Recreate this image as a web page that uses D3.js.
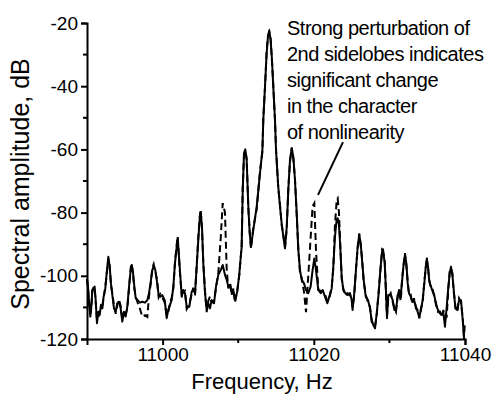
<!DOCTYPE html>
<html>
<head>
<meta charset="utf-8">
<script src="https://cdn.jsdelivr.net/npm/d3@7.8.5/dist/d3.min.js"></script>
<style>
  body { margin: 0; background: #fff; }
  svg { display: block; font-family: "Liberation Sans", Arial, sans-serif; }
</style>
</head>
<body>
<div id="chart"></div>
<script>
// frequency grid (Hz)
const freq = [
  10990.00, 10990.13, 10990.26, 10990.44, 10990.57, 10990.70, 10990.88, 10991.01, 10991.15, 10991.32,
  10991.50, 10991.68, 10991.85, 10992.03, 10992.20, 10992.42, 10992.60, 10992.82, 10993.00, 10993.17,
  10993.35, 10993.57, 10993.80, 10994.00, 10994.23, 10994.45, 10994.67, 10994.89, 10995.11, 10995.33,
  10995.56, 10995.78, 10995.91, 10996.08, 10996.26, 10996.44, 10996.70, 10997.01, 10997.32, 10997.67,
  10997.98, 10998.20, 10998.43, 10998.64, 10998.82, 10999.04, 10999.26, 10999.48, 10999.70, 10999.96,
  11000.28, 11000.54, 11000.75, 11000.98, 11001.20, 11001.42, 11001.64, 11001.87, 11002.00, 11002.17,
  11002.35, 11002.53, 11002.74, 11002.96, 11003.19, 11003.53, 11003.85, 11004.06, 11004.29, 11004.51,
  11004.72, 11004.90, 11005.04, 11005.21, 11005.38, 11005.61, 11005.83, 11006.04, 11006.27, 11006.49,
  11006.80, 11007.06, 11007.37, 11007.69, 11007.95, 11008.25, 11008.48, 11008.69, 11008.92, 11009.14,
  11009.35, 11009.58, 11009.88, 11010.15, 11010.46, 11010.60, 11010.77, 11010.94, 11011.12, 11011.34,
  11011.52, 11011.69, 11012.00, 11012.45, 11012.88, 11013.20, 11013.32, 11013.54, 11013.76, 11013.94,
  11014.11, 11014.29, 11014.47, 11014.64, 11014.87, 11015.00, 11015.30, 11015.53, 11015.75, 11015.97,
  11016.19, 11016.42, 11016.63, 11016.85, 11017.08, 11017.29, 11017.51, 11017.74, 11017.95, 11018.17,
  11018.40, 11018.70, 11018.97, 11019.27, 11019.58, 11019.84, 11020.07, 11020.29, 11020.60, 11020.91,
  11021.18, 11021.48, 11021.79, 11022.05, 11022.37, 11022.58, 11022.80, 11023.03, 11023.16, 11023.33,
  11023.50, 11023.69, 11023.90, 11024.17, 11024.43, 11024.79, 11025.01, 11025.13, 11025.35, 11025.58,
  11025.80, 11026.01, 11026.20, 11026.38, 11026.60, 11026.87, 11027.17, 11027.43, 11027.66, 11027.87,
  11028.10, 11028.32, 11028.58, 11028.80, 11029.03, 11029.15, 11029.38, 11029.55, 11029.68, 11029.86,
  11030.17, 11030.44, 11030.65, 11030.87, 11031.10, 11031.27, 11031.50, 11031.71, 11031.89, 11032.06,
  11032.24, 11032.42, 11032.59, 11032.82, 11033.03, 11033.25, 11033.52, 11033.74, 11033.96, 11034.18,
  11034.40, 11034.62, 11034.81, 11034.94, 11035.11, 11035.28, 11035.50, 11035.73, 11035.94, 11036.16,
  11036.43, 11036.69, 11036.96, 11037.13, 11037.35, 11037.58, 11037.80, 11037.98, 11038.15, 11038.33,
  11038.51, 11038.73, 11038.99, 11039.21, 11039.47, 11039.70, 11039.87, 11040.00
];

// solid trace (dB)
const solidDb = [
  -101.3, -103.4, -107.7, -112.9, -109.8, -104.5, -104.0, -103.4, -107.7, -115.0,
  -111.4, -112.4, -109.2, -110.3, -106.6, -104.0, -99.2, -94.0, -97.1, -102.4,
  -106.1, -110.3, -111.4, -108.7, -108.2, -110.3, -114.5, -111.4, -112.9, -109.8,
  -103.4, -98.2, -96.6, -98.7, -103.4, -107.1, -107.7, -108.5, -108.2, -108.5,
  -107.7, -105.5, -101.9, -98.2, -96.9, -98.2, -101.9, -106.1, -106.6, -106.1,
  -107.7, -113.4, -110.8, -109.2, -107.7, -103.4, -96.0, -90.8, -88.1, -94.0,
  -100.3, -106.6, -104.5, -105.5, -109.8, -109.8, -105.0, -104.5, -105.5, -97.1,
  -88.7, -82.3, -79.8, -84.5, -96.0, -105.5, -110.8, -108.7, -110.3, -107.7,
  -108.7, -103.4, -99.7, -98.2, -96.6, -99.7, -101.3, -103.4, -102.9, -105.5,
  -104.5, -107.7, -105.0, -99.2, -90.8, -72.8, -61.2, -60.0, -63.4, -78.1,
  -86.6, -90.8, -85.5, -78.1, -67.6, -60.2, -50.7, -40.2, -29.6, -24.3,
  -22.4, -25.4, -31.7, -40.2, -50.7, -60.2, -71.8, -78.1, -83.4, -87.6,
  -91.3, -84.5, -72.8, -63.4, -59.7, -62.3, -69.7, -80.2, -91.8, -98.2,
  -101.3, -102.4, -104.5, -105.5, -103.4, -98.2, -94.5, -98.2, -104.5, -105.5,
  -104.5, -106.6, -108.7, -106.6, -104.0, -97.1, -87.6, -82.1, -81.8, -83.9,
  -90.8, -100.3, -104.5, -105.5, -106.1, -105.5, -107.7, -110.8, -105.5, -98.2,
  -90.8, -87.1, -89.7, -95.0, -101.3, -106.6, -107.7, -110.3, -114.0, -115.6,
  -116.6, -111.9, -105.5, -98.2, -92.4, -91.6, -96.0, -105.0, -113.4, -106.1,
  -106.1, -107.7, -110.8, -110.8, -106.6, -104.5, -106.1, -100.8, -96.0, -93.4,
  -96.0, -102.4, -105.5, -106.6, -108.2, -107.7, -109.8, -111.4, -112.9, -110.8,
  -107.7, -102.4, -97.1, -94.8, -97.1, -101.9, -103.4, -105.0, -106.1, -109.2,
  -110.8, -111.9, -112.4, -111.4, -116.1, -109.8, -103.4, -99.2, -97.1, -99.7,
  -104.5, -110.3, -110.8, -107.7, -107.7, -114.0, -119.8, -120.0
];

// dashed trace (dB)
const dashedDb = [
  -101.0, -104.0, -108.5, -112.0, -110.5, -105.0, -103.5, -104.0, -108.5, -114.0,
  -113.0, -111.5, -110.0, -109.5, -107.0, -103.5, -99.8, -94.5, -96.5, -103.0,
  -105.5, -109.5, -112.0, -109.5, -107.5, -109.5, -113.5, -112.0, -112.0, -110.5,
  -104.0, -97.5, -96.0, -99.5, -104.0, -106.5, -108.5, -110.5, -113.0, -112.5,
  -113.0, -106.5, -102.5, -97.5, -96.3, -98.8, -101.2, -106.8, -105.8, -106.8,
  -108.5, -112.5, -111.5, -108.5, -107.0, -104.0, -95.5, -90.0, -87.5, -94.5,
  -101.0, -105.8, -105.2, -104.8, -110.5, -109.0, -105.8, -103.8, -106.2, -96.5,
  -88.0, -81.5, -79.0, -85.0, -95.5, -104.8, -111.5, -108.0, -106.5, -108.5,
  -108.0, -104.0, -99.0, -88.0, -77.0, -80.0, -98.0, -104.0, -102.0, -106.0,
  -104.0, -108.5, -104.5, -99.8, -90.2, -72.2, -61.8, -60.4, -62.8, -78.6,
  -86.0, -91.4, -84.8, -78.8, -67.0, -60.8, -50.2, -40.8, -29.0, -24.0,
  -22.8, -25.0, -32.3, -39.6, -51.3, -59.6, -72.4, -77.5, -84.0, -87.0,
  -91.0, -85.2, -72.2, -64.0, -59.4, -62.9, -69.2, -80.8, -91.2, -98.8,
  -100.7, -105.0, -111.5, -100.0, -88.0, -78.0, -77.0, -92.0, -104.5, -104.8,
  -105.2, -106.0, -108.0, -107.2, -103.5, -97.7, -84.0, -76.0, -75.5, -80.0,
  -90.0, -101.0, -104.0, -106.2, -105.5, -106.2, -107.0, -110.0, -106.2, -97.6,
  -91.4, -86.6, -90.3, -94.4, -101.9, -106.0, -108.3, -109.7, -114.6, -115.0,
  -116.0, -112.5, -104.9, -98.8, -91.8, -92.2, -95.4, -105.6, -112.8, -106.7,
  -105.5, -108.3, -110.2, -111.4, -106.0, -105.1, -108.0, -100.2, -96.6, -92.8,
  -96.6, -101.8, -106.1, -106.0, -108.8, -107.1, -110.4, -110.8, -113.5, -110.2,
  -108.3, -101.8, -97.7, -94.2, -97.7, -101.3, -104.0, -104.4, -106.7, -108.6,
  -111.4, -111.3, -113.0, -110.8, -113.5, -113.0, -104.0, -98.6, -97.7, -99.1,
  -105.1, -109.7, -111.4, -107.1, -108.3, -113.4, -119.2, -114.5
];

// axis ticks
const xTicks = [11000, 11020, 11040];
const xMinorTicks = [11010, 11030];
const yTicks = [-120, -100, -80, -60, -40, -20];
const yMinorTicks = [-110, -90, -70, -50, -30];

// annotation
const noteLines = [
  "Strong perturbation of",
  "2nd sidelobes indicates",
  "significant change",
  "in the character",
  "of nonlinearity"
];
const notePointer = [[11023.86, -57.7], [11020.56, -74.4]];

const width = 494, height = 394;
const margin = { top: 23, right: 29, bottom: 55, left: 87 };

const svg = d3.select("#chart").append("svg")
  .attr("width", width)
  .attr("height", height);

const x = d3.scaleLinear().domain([10990, 11040]).range([margin.left, width - margin.right]);
const y = d3.scaleLinear().domain([-120, -20]).range([height - margin.bottom, margin.top]);

const line = d3.line().x((d, i) => x(freq[i])).y(d => y(d));

// Dashed first, solid on top
svg.append("path")
  .datum(dashedDb)
  .attr("d", line)
  .attr("fill", "none")
  .attr("stroke", "#000")
  .attr("stroke-width", 2)
  .attr("stroke-dasharray", "7,4");

svg.append("path")
  .datum(solidDb)
  .attr("d", line)
  .attr("fill", "none")
  .attr("stroke", "#000")
  .attr("stroke-width", 2)
  .attr("stroke-linejoin", "round");

// X axis
const xAxis = svg.append("g")
  .attr("transform", `translate(0,${height - margin.bottom})`)
  .call(d3.axisBottom(x).tickValues(xTicks).tickSize(6).tickPadding(3).tickFormat(d => String(d)));
xAxis.append("g").selectAll("line")
  .data(xMinorTicks).join("line")
  .attr("x1", d => x(d)).attr("x2", d => x(d))
  .attr("y1", 0).attr("y2", 4)
  .attr("stroke", "#000").attr("stroke-width", 2);

// Y axis
const yAxis = svg.append("g")
  .attr("transform", `translate(${margin.left},0)`)
  .call(d3.axisLeft(y).tickValues(yTicks).tickSize(6).tickPadding(3).tickFormat(d => String(d)));
yAxis.append("g").selectAll("line")
  .data(yMinorTicks).join("line")
  .attr("y1", d => y(d)).attr("y2", d => y(d))
  .attr("x1", 0).attr("x2", -4)
  .attr("stroke", "#000").attr("stroke-width", 2);

svg.selectAll(".domain").attr("stroke", "#000").attr("stroke-width", 2);
svg.selectAll(".tick line").attr("stroke", "#000").attr("stroke-width", 2);
svg.selectAll(".tick text")
  .attr("fill", "#000")
  .style("font-size", "19px")
  .style("font-family", "'Liberation Sans', Arial, sans-serif");

// Axis titles
svg.append("text")
  .attr("x", 262)
  .attr("y", 389)
  .attr("text-anchor", "middle")
  .style("font-size", "22px")
  .text("Frequency, Hz");

svg.append("text")
  .attr("transform", `translate(29,184) rotate(-90)`)
  .attr("text-anchor", "middle")
  .style("font-size", "25px")
  .text("Spectral amplitude, dB");

// Annotation
svg.append("g").selectAll("text")
  .data(noteLines).join("text")
  .attr("x", 287)
  .attr("y", (d, i) => 35 + i * 26)
  .style("font-size", "20px")
  .style("letter-spacing", "-0.5px")
  .text(d => d);

svg.append("line")
  .attr("x1", x(notePointer[0][0])).attr("y1", y(notePointer[0][1]))
  .attr("x2", x(notePointer[1][0])).attr("y2", y(notePointer[1][1]))
  .attr("stroke", "#000").attr("stroke-width", 2);
</script>
</body>
</html>
